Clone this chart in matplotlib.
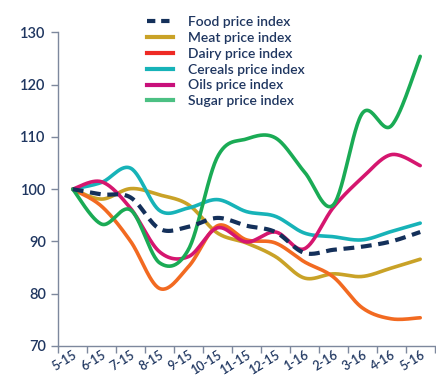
import numpy as np
import matplotlib
matplotlib.use("Agg")
import matplotlib.pyplot as plt
from matplotlib.lines import Line2D

months = ["5-15", "6-15", "7-15", "8-15", "9-15", "10-15", "11-15",
          "12-15", "1-16", "2-16", "3-16", "4-16", "5-16"]

food    = [100, 99.0, 98.4, 92.4, 92.8, 94.5, 93.0, 91.8, 87.8, 88.4, 89.0, 90.0, 91.8]
meat    = [100, 98.1, 100.1, 98.9, 97.0, 91.6, 89.7, 87.1, 83.0, 83.8, 83.3, 84.9, 86.6]
dairy   = [100, 96.7, 90.0, 81.0, 85.2, 93.0, 90.3, 89.7, 86.1, 83.2, 77.3, 75.2, 75.4]
cereals = [100, 101.3, 104.0, 95.9, 96.4, 98.0, 95.7, 94.8, 91.6, 90.9, 90.3, 91.9, 93.5]
oils    = [100, 101.4, 96.3, 88.0, 87.1, 92.6, 89.9, 91.8, 88.6, 96.5, 102.2, 106.6, 104.5]
sugar   = [100, 93.3, 96.0, 85.9, 88.5, 106.2, 109.6, 109.8, 103.3, 97.0, 114.5, 112.1, 125.4]

series = [
    ("Food price index",    food,    "#14305a", "#14305a", True),
    ("Meat price index",    meat,    "#c9a227", "#c9a227", False),
    ("Dairy price index",   dairy,   "#f26a21", "#ee2a24", False),
    ("Cereals price index", cereals, "#17b3b8", "#17b3b8", False),
    ("Oils price index",    oils,    "#d5166f", "#c8107a", False),
    ("Sugar price index",   sugar,   "#1aab55", "#4cc083", False),
]

text_color = "#1f3660"
axis_color = "#7d889d"


def smooth(y, n=30):
    """Bezier smoothing through every point (Catmull-Rom style tangents)."""
    y = np.asarray(y, float)
    x = np.arange(len(y), dtype=float)
    pts = np.column_stack([x, y])
    ext = np.vstack([pts[0], pts, pts[-1]])
    out = [pts[:1]]
    t = np.linspace(0, 1, n)[1:, None]
    for i in range(len(pts) - 1):
        p0, p3 = pts[i], pts[i + 1]
        c1 = p0 + (ext[i + 2] - ext[i]) / 6.0
        c2 = p3 - (ext[i + 3] - ext[i + 1]) / 6.0
        seg = ((1 - t) ** 3) * p0 + 3 * ((1 - t) ** 2) * t * c1 \
            + 3 * (1 - t) * t ** 2 * c2 + t ** 3 * p3
        out.append(seg)
    c = np.vstack(out)
    return c[:, 0], c[:, 1]


plt.rcParams["font.family"] = ["Lato", "DejaVu Sans"]

fig = plt.figure(figsize=(4.36, 3.76), dpi=100)
ax = fig.add_axes([0.1337, 0.0798, 0.8633, 0.8343])

handles = []
for label, vals, col, hcol, dashed in series:
    xs, ys = smooth(vals)
    if dashed:
        ax.plot(xs, ys, color=col, lw=3.0, dashes=(2.6, 1.6),
                solid_capstyle="butt", dash_capstyle="butt", zorder=3)
        handles.append(Line2D([], [], color=hcol, lw=3.0, dashes=(2.0, 1.4)))
    else:
        ax.plot(xs, ys, color=col, lw=2.6, solid_capstyle="round", zorder=2)
        handles.append(Line2D([], [], color=hcol, lw=3.0))

ax.set_xlim(-0.5, len(months) - 0.5)
ax.set_ylim(70, 130)

ax.set_yticks(range(70, 131, 10))
ax.set_xticks(np.arange(-0.5, len(months), 1.0))
ax.set_xticklabels([])
ax.set_xticks(np.arange(len(months)), minor=True)
ax.set_xticklabels(months, minor=True, rotation=32, ha="right",
                   rotation_mode="anchor")

for s in ["top", "right"]:
    ax.spines[s].set_visible(False)
for s in ["left", "bottom"]:
    ax.spines[s].set_color(axis_color)
    ax.spines[s].set_linewidth(1.0)

ax.tick_params(axis="y", which="major", direction="out", length=5, width=1.0,
               color=axis_color, labelcolor=text_color, labelsize=10.5, pad=4)
ax.tick_params(axis="x", which="major", direction="out", length=5, width=1.0,
               color=axis_color)
ax.tick_params(axis="x", which="minor", length=0, labelcolor=text_color,
               labelsize=9, pad=2)
for lab in ax.get_yticklabels() + ax.get_xticklabels(minor=True):
    lab.set_fontweight("semibold")

leg = ax.legend(handles, [s[0] for s in series], loc="upper left",
                bbox_to_anchor=(0.22, 1.07), frameon=False, fontsize=10,
                handlelength=1.9, handletextpad=1.1, labelspacing=0.28,
                borderaxespad=0)
for t in leg.get_texts():
    t.set_color(text_color)
    t.set_fontweight("semibold")

fig.savefig("out.png", dpi=100)
